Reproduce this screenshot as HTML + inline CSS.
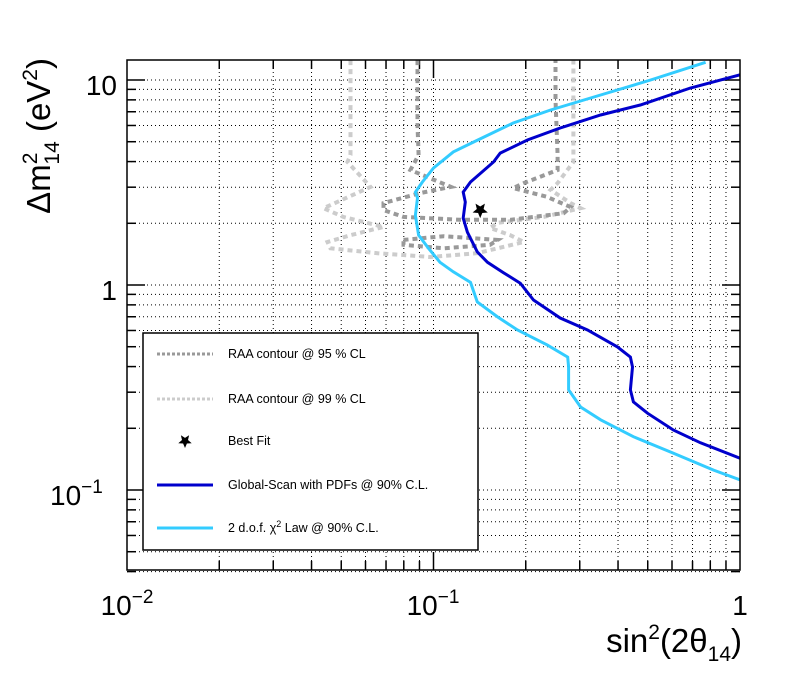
<!DOCTYPE html>
<html><head><meta charset="utf-8"><style>
body{margin:0;background:#fff;font-family:"Liberation Sans",sans-serif}
</style></head><body>
<svg id="c" width="798" height="671" xmlns="http://www.w3.org/2000/svg"></svg>
<script>
const raa95Main=[[0.0887,12.5],[0.0887,6.0],[0.0894,4.3],[0.0841,3.64],[0.114,3.01],[0.0907,2.81],[0.0687,2.51],[0.0687,2.32],[0.0798,2.15],[0.122,2.08],[0.178,2.08],[0.266,2.24],[0.280,2.40],[0.235,2.69],[0.182,2.97],[0.197,3.14],[0.254,3.64],[0.254,4.31],[0.250,8.0],[0.250,12.5]];
const raa95Loop=[[0.0798,1.66],[0.108,1.73],[0.162,1.66],[0.153,1.57],[0.108,1.51],[0.0798,1.57],[0.0798,1.66]];
const raa99=[[0.0536,12.5],[0.0536,4.31],[0.0524,3.98],[0.0623,3.01],[0.0438,2.37],[0.0508,2.15],[0.0687,1.92],[0.0536,1.75],[0.0451,1.62],[0.0461,1.51],[0.0657,1.43],[0.0978,1.37],[0.139,1.43],[0.197,1.62],[0.178,1.75],[0.153,1.90],[0.162,2.01],[0.229,2.15],[0.302,2.37],[0.280,2.51],[0.241,2.91],[0.254,3.14],[0.286,3.98],[0.286,8.0],[0.286,12.5]];
const globalScan=[[1.0,10.6],[0.689,9.14],[0.473,7.55],[0.351,6.75],[0.259,5.83],[0.203,5.10],[0.165,4.40],[0.157,3.98],[0.132,3.18],[0.125,2.84],[0.127,2.54],[0.125,2.12],[0.129,1.81],[0.139,1.45],[0.150,1.29],[0.169,1.15],[0.192,1.02],[0.212,0.845],[0.259,0.690],[0.318,0.603],[0.398,0.499],[0.439,0.445],[0.446,0.398],[0.439,0.308],[0.449,0.269],[0.499,0.237],[0.607,0.196],[0.743,0.170],[1.0,0.143]];
const chi2Law=[[0.772,12.2],[0.511,10],[0.351,8.45],[0.241,7.14],[0.182,6.17],[0.135,4.98],[0.116,4.46],[0.100,3.72],[0.092,3.18],[0.0873,2.84],[0.0887,2.66],[0.0873,2.19],[0.0894,1.75],[0.0963,1.51],[0.105,1.29],[0.116,1.16],[0.132,1.03],[0.139,0.826],[0.162,0.698],[0.188,0.603],[0.235,0.510],[0.274,0.445],[0.276,0.398],[0.276,0.308],[0.302,0.254],[0.351,0.220],[0.449,0.182],[0.607,0.151],[0.820,0.125],[1.0,0.112]];
const bestFit=[0.142,2.32];
const xDomain=[0.01,1], yDomain=[0.04,12.5];
const L=127,R=740,T=60,B=570;
const NS="http://www.w3.org/2000/svg";
const svg=document.getElementById('c');
function X(v){return L+(Math.log10(v)-Math.log10(xDomain[0]))/(Math.log10(xDomain[1])-Math.log10(xDomain[0]))*(R-L);}
function Y(v){return 285-205*Math.log10(v);}
function el(t,a,p){const e=document.createElementNS(NS,t);for(const k in a)e.setAttribute(k,a[k]);(p||svg).appendChild(e);return e;}
const grid=el('g',{});


for(let d=-2;d<0;d++)for(let m=1;m<=9;m++){const v=m*Math.pow(10,d);if(v<=0.01)continue;const x=X(v);
 el('line',{x1:x,x2:x,y1:T,y2:B,stroke:'#000','stroke-width':1,'stroke-dasharray':'1,3'},grid);
 el('line',{x1:x,x2:x,y1:B,y2:B-(m==1?18:9),stroke:'#000','stroke-width':1.5});
 el('line',{x1:x,x2:x,y1:T,y2:T+(m==1?18:9),stroke:'#000','stroke-width':1.5});}
for(let d=-2;d<=1;d++)for(let m=1;m<=9;m++){const v=m*Math.pow(10,d);if(v<yDomain[0]||v>yDomain[1])continue;const y=Y(v);
 el('line',{x1:L,x2:R,y1:y,y2:y,stroke:'#000','stroke-width':1,'stroke-dasharray':'1,3'},grid);
 el('line',{x1:L,x2:L+(m==1?18:9),y1:y,y2:y,stroke:'#000','stroke-width':1.5});
 el('line',{x1:R,x2:R-(m==1?18:9),y1:y,y2:y,stroke:'#000','stroke-width':1.5});}
function pts(a){return a.map(p=>X(p[0]).toFixed(1)+','+Y(p[1]).toFixed(1)).join(' ');}
const cp=el('clipPath',{id:'cl'});el('rect',{x:L,y:T,width:R-L,height:B-T},cp);
let e;
e=el('polyline',{points:pts(raa99),fill:'none',stroke:'#cccccc','stroke-width':4,'stroke-dasharray':'5,4','clip-path':'url(#cl)'});


e=el('polyline',{points:pts(raa95Main),fill:'none',stroke:'#999999','stroke-width':4,'stroke-dasharray':'5,4','clip-path':'url(#cl)'});


e=el('polyline',{points:pts(raa95Loop),fill:'none',stroke:'#999999','stroke-width':4,'stroke-dasharray':'5,4','clip-path':'url(#cl)'});


e=el('polyline',{points:pts(chi2Law),fill:'none',stroke:'#33ccff','stroke-width':3,'clip-path':'url(#cl)'});


e=el('polyline',{points:pts(globalScan),fill:'none',stroke:'#0000cc','stroke-width':3,'clip-path':'url(#cl)'});


function star(cx,cy,r){let s=[];for(let i=0;i<10;i++){const a=Math.PI/2+i*Math.PI/5;const rr=i%2?r*0.45:r;s.push((cx+rr*Math.cos(a)).toFixed(1)+','+(cy+rr*Math.sin(a)).toFixed(1));}return s.join(' ');}
e=el('polygon',{points:star(X(bestFit[0]),Y(bestFit[1]),8),fill:'#000'});


el('rect',{x:L,y:T,width:R-L,height:B-T,fill:'none',stroke:'#000','stroke-width':1.5});
function txt(x,y,s,a){const t=el('text',Object.assign({x:x,y:y,'font-size':28,'font-family':'Liberation Sans, sans-serif'},a||{}));t.innerHTML=s;return t;}
e=txt(127,615,'10<tspan dy="-12" font-size="19">−2</tspan>',{'text-anchor':'middle'});

e=txt(433,615,'10<tspan dy="-12" font-size="19">−1</tspan>',{'text-anchor':'middle'});

e=txt(740,615,'1',{'text-anchor':'middle'});

e=txt(117,95,'10',{'text-anchor':'end'});

e=txt(117,300,'1',{'text-anchor':'end'});

e=txt(50,505,'10<tspan dy="-12" font-size="19">−1</tspan>',{});

e=txt(742,652,'sin<tspan dy="-13" font-size="21">2</tspan><tspan dy="13">(2θ</tspan><tspan dy="9" font-size="21">14</tspan><tspan dy="-9">)</tspan>',{'text-anchor':'end','font-size':33});

e=txt(0,0,'Δm<tspan dy="-13" font-size="21">2</tspan><tspan dx="-12" dy="22" font-size="21">14</tspan><tspan dy="-9"> (eV</tspan><tspan dy="-13" font-size="21">2</tspan><tspan dy="13">)</tspan>',{'text-anchor':'end','font-size':33,transform:'translate(50,58) rotate(-90)'});

const lg=el('g',{});


el('rect',{x:143,y:333,width:335,height:217,fill:'#fff',stroke:'#000','stroke-width':1.5},lg);
const leg=[['RAA contour @ 95 % CL','#999999',354,'d'],['RAA contour @ 99 % CL','#cccccc',399,'d'],['Best Fit','',441,'s'],['Global-Scan with PDFs @ 90% C.L.','#0000cc',485,'l'],['2 d.o.f. χ<tspan dy="-5" font-size="9">2</tspan><tspan dy="5"> Law @ 90% C.L.</tspan>','#33ccff',528,'l']];
leg.forEach(r=>{const g=el('g',{},lg);
 
 
 if(r[3]=='s')el('polygon',{points:star(185,r[2],7),fill:'#000'},g);
 else el('line',{x1:157,x2:213,y1:r[2],y2:r[2],stroke:r[1],'stroke-width':3,'stroke-dasharray':r[3]=='d'?'3,2':'none'},g);
 const t=el('text',{x:228,y:r[2]+4,'font-size':12.5,'font-family':'Liberation Sans, sans-serif'},g);t.innerHTML=r[0];});
</script>
</body></html>
